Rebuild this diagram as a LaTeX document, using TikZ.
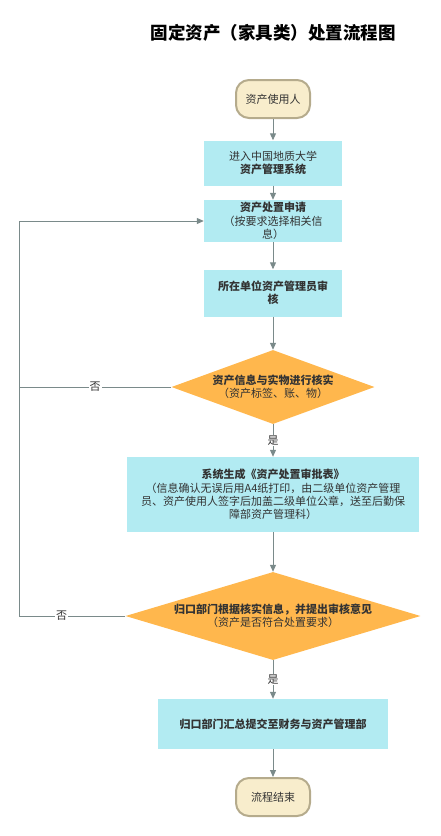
\documentclass[tikz,border=0pt]{standalone}
\usepackage{fontspec}
\setmainfont{Noto Sans CJK SC}
\usetikzlibrary{shapes.geometric,arrows.meta}
\definecolor{boxfill}{HTML}{B2EBF2}
\definecolor{diafill}{HTML}{FFB74D}
\definecolor{linec}{HTML}{7A8A8A}
\definecolor{termfill}{HTML}{F8EDCC}
\definecolor{termdraw}{HTML}{B5AB8C}
\definecolor{txt}{HTML}{333333}
\tikzset{
  base/.style={font=\fontsize{11}{13.4}\selectfont, text=txt, align=center, inner sep=0pt},
  term/.style={base, rectangle, rounded corners=13pt, fill=termfill, draw=termdraw, line width=2pt, minimum width=74pt, minimum height=38pt},
  procbox/.style={base, rectangle, fill=boxfill, draw=none},
  decis/.style={base, diamond, fill=diafill, draw=none},
  conn/.style={draw=linec, line width=1pt, -{Triangle[length=7pt,width=6pt]}},
  plain/.style={draw=linec, line width=1pt},
  lbl/.style={font=\fontsize{11}{13}\selectfont, text=txt, fill=white, inner sep=1pt},
}
\begin{document}
\begin{tikzpicture}[x=1pt,y=-1pt]
\useasboundingbox (0,0) rectangle (440,836);
\node[font=\fontsize{17.5}{20}\selectfont\bfseries, text=black] (title) at (273,33) {固定资产（家具类）处置流程图};
\node[term] (start) at (273,99) {资产使用人};
\node[procbox, minimum width=138pt, minimum height=45pt] (b1) at (273,163) {进入中国地质大学\\\textbf{资产管理系统}};
\node[procbox, minimum width=138pt, minimum height=42pt] (b2) at (273,221) {\textbf{资产处置申请}\\（按要求选择相关信\\息）};
\node[procbox, minimum width=138pt, minimum height=47pt] (b3) at (273,293) {\textbf{所在单位资产管理员审}\\\textbf{核}};
\node[decis, minimum width=203pt, minimum height=74pt, aspect=2.74] (d1) at (273,387) {\textbf{资产信息与实物进行核实}\\（资产标签、账、物）};
\node[procbox, minimum width=292pt, minimum height=75pt] (b4) at (273,494.5) {\textbf{系统生成《资产处置审批表》}\\（信息确认无误后用A4纸打印，由二级单位资产管理\\员、资产使用人签字后加盖二级单位公章，送至后勤保\\障部资产管理科）};
\node[decis, minimum width=295pt, minimum height=88pt, aspect=3.35] (d2) at (273,616) {\textbf{归口部门根据核实信息，并提出审核意见}\\（资产是否符合处置要求）};
\node[procbox, minimum width=230pt, minimum height=50pt] (b5) at (273,724) {\textbf{归口部门汇总提交至财务与资产管理部}};
\node[term] (end) at (273,797) {流程结束};
\coordinate (L1) at (19,387);
\coordinate (L2) at (19,616);
\draw[conn] (start) -- (b1);
\draw[conn] (b1) -- (b2);
\draw[conn] (b2) -- (b3);
\draw[conn] (b3) -- (d1);
\draw[conn] (d1) -- node[lbl] {是} (b4);
\draw[conn] (b4) -- (d2);
\draw[conn] (d2) -- node[lbl] {是} (b5);
\draw[conn] (b5) -- (end);
\draw[conn] (d1.west) -- node[lbl, pos=0.5] {否} (L1) |- (b2.west);
\draw[plain] (d2.west) -- node[lbl, pos=0.6] {否} (L2) -- (L1);
\end{tikzpicture}
\end{document}
